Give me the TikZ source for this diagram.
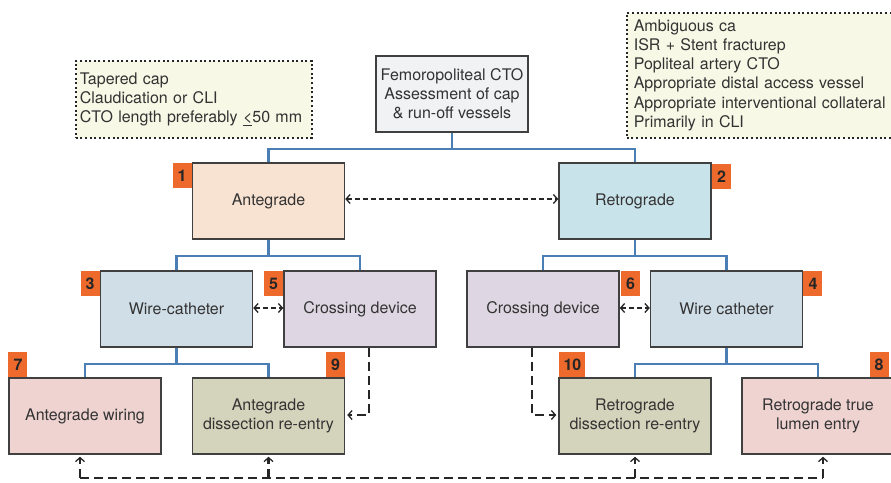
\documentclass[tikz,border=0pt]{standalone}
\usepackage{fontspec}
\setmainfont{TeX Gyre Heros}
\usepackage{xcolor}
\usepackage{tikz}
\usetikzlibrary{arrows.meta, positioning, calc}

\definecolor{txtgray}{HTML}{333333}
\definecolor{treeblue}{HTML}{4A7EB4}
\definecolor{badgeorange}{HTML}{EE6A2C}
\definecolor{notefill}{HTML}{F7F8E5}
\definecolor{topfill}{HTML}{F1F2F4}
\definecolor{antefill}{HTML}{F8E2D1}
\definecolor{retrofill}{HTML}{C9E3EA}
\definecolor{wirefill}{HTML}{D0DEE8}
\definecolor{crossfill}{HTML}{DED7E3}
\definecolor{wiringfill}{HTML}{EED3D1}
\definecolor{dissfill}{HTML}{D4D3BB}

\begin{document}
\begin{tikzpicture}[
                x=1pt, y=-1pt,
                font=\fontsize{16}{19.2}\selectfont\color{txtgray},
                block/.style={rectangle, draw=black!75, line width=1.5pt, minimum width=152pt, minimum height=76pt, align=center, inner sep=2pt},
                note/.style={rectangle, draw=black!85, line width=1.6pt, dash pattern=on 2pt off 2.6pt, fill=notefill, align=left, inner xsep=5pt, inner ysep=0pt, anchor=north west},
                badge/.style={rectangle, fill=badgeorange, minimum width=19pt, minimum height=25pt, inner sep=1pt, font=\fontsize{16}{18}\selectfont\bfseries\color{black!85}},
                tree/.style={draw=treeblue, line width=2.2pt},
                link/.style={draw=black!85, line width=1.8pt, dash pattern=on 5pt off 3pt, {Straight Barb[length=4pt, width=9pt, line width=1.3pt]}-{Straight Barb[length=4pt, width=9pt, line width=1.3pt]}},
                route/.style={draw=black!85, line width=2.4pt, dash pattern=on 9pt off 5pt},
                tip/.style={-{Straight Barb[length=4pt, width=9pt, line width=1.3pt]}, shorten >=2pt}
            ]
                \clip (0,0) rectangle (891,482);

                % Notes
                \node[note, inner xsep=4pt, text width=228pt, minimum height=77pt] (antenote) at (75,60) {Tapered cap\\Claudication or CLI\\CTO length preferably \underline{<}50 mm};
                \node[note, inner xsep=7pt, text width=256pt, minimum height=125pt] (retronote) at (626,12) {Ambiguous ca\\ISR + Stent fracturep\\Popliteal artery CTO\\Appropriate distal access vessel\\Appropriate interventional collateral\\Primarily in CLI};

                % Tree nodes
                \node[block, fill=topfill] (cto) at (452,94) {Femoropoliteal CTO\\Assessment of cap\\\& run-off vessels};
                \node[block, fill=antefill] (ante) at (268.5,201) {Antegrade};
                \node[block, fill=retrofill] (retro) at (635,201) {Retrograde};
                \node[block, fill=wirefill] (antewire) at (176.5,309) {Wire-catheter};
                \node[block, fill=crossfill] (antecross) at (360,309) {Crossing device};
                \node[block, fill=crossfill] (retrocross) at (543,309) {Crossing device};
                \node[block, fill=wirefill] (retrowire) at (726.5,309) {Wire catheter};
                \node[block, fill=wiringfill] (antewiring) at (85,416) {Antegrade wiring};
                \node[block, fill=dissfill] (antediss) at (268.5,416) {Antegrade\\dissection re-entry};
                \node[block, fill=dissfill] (retrodiss) at (635,416) {Retrograde\\dissection re-entry};
                \node[block, fill=wiringfill] (retrotrue) at (818,416) {Retrograde true\\lumen entry};

                % Badges
                \node[badge, below left=1pt and 0pt of ante.north west] {1};
                \node[badge, below right=2pt and 0pt of retro.north east] {2};
                \node[badge, below left=1pt and 0pt of antewire.north west] {3};
                \node[badge, below right=1pt and 0pt of retrowire.north east] {4};
                \node[badge, below left=1pt and 0pt of antecross.north west] {5};
                \node[badge, below right=1pt and 1pt of retrocross.north east] {6};
                \node[badge, above right=0pt and 0pt of antewiring.north west] {7};
                \node[badge, above left=0pt and 6pt of retrotrue.north east] {8};
                \node[badge, above left=0pt and 0pt of antediss.north east] {9};
                \node[badge, above right=0pt and 1pt of retrodiss.north west, minimum width=26pt] {10};

                % Blue tree
                \path[tree] (cto.south) -- ++(0,16) -| (ante.north);
                \path[tree] (cto.south) -- ++(0,16) -| (retro.north);
                \path[tree] (ante.south) -- ++(0,16) -| (antewire.north);
                \path[tree] (ante.south) -- ++(0,16) -| (antecross.north);
                \path[tree] (retro.south) -- ++(0,16) -| (retrocross.north);
                \path[tree] (retro.south) -- ++(0,16) -| (retrowire.north);
                \path[tree] (antewire.south) -- ++(0,16) -| (antewiring.north);
                \path[tree] (antewire.south) -- ++(0,16) -| (antediss.north);
                \path[tree] (retrowire.south) -- ++(0,16) -| (retrodiss.north);
                \path[tree] (retrowire.south) -- ++(0,16) -| (retrotrue.north);

                % Dashed links
                \path[link] ([yshift=2pt]ante.east) -- ([yshift=2pt]retro.west);
                \path[link] ([yshift=1pt]antewire.east) -- ([yshift=1pt]antecross.west);
                \path[link] ([yshift=1pt]retrocross.east) -- ([yshift=1pt]retrowire.west);
                \path[route, tip] ([xshift=9pt]antecross.south) |- ([yshift=1pt]antediss.east);
                \path[route, tip] ([xshift=-11pt]retrocross.south) |- ([yshift=1pt]retrodiss.west);

                % Bottom route
                \coordinate (floor) at (0,478);
                \path[route] ([xshift=-5pt]antewiring.south |- floor) -- ([xshift=5pt]retrotrue.south |- floor);
                \path[route, tip] ([xshift=-5pt]antewiring.south |- floor) -- ([xshift=-5pt]antewiring.south);
                \path[route, tip] (antediss.south |- floor) -- (antediss.south);
                \path[route, tip] (retrodiss.south |- floor) -- (retrodiss.south);
                \path[route, tip] ([xshift=5pt]retrotrue.south |- floor) -- ([xshift=5pt]retrotrue.south);
            \end{tikzpicture}
\end{document}
